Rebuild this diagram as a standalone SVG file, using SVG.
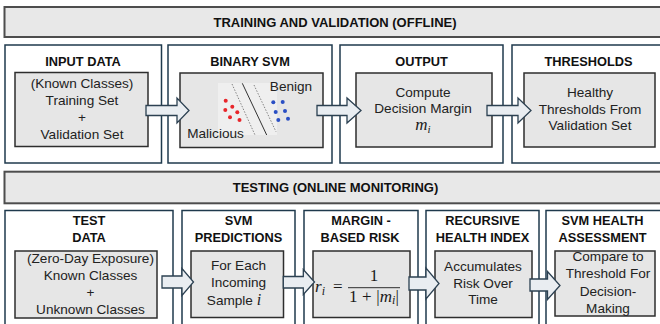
<svg xmlns="http://www.w3.org/2000/svg" width="660" height="324" viewBox="0 0 660 324">
  <style>
    .banner { fill: #e8e8e8; stroke: #4d4d4d; stroke-width: 2; }
    .panel { fill: #ffffff; stroke: #1f3a4d; stroke-width: 1.5; }
    .inner { fill: #e6e6e6; stroke: #2e2e2e; stroke-width: 1.5; }
    .arrow { fill: #e9edf1; stroke: #2c4152; stroke-width: 1.3; stroke-linejoin: miter; }
    .hdr { font-family: "Liberation Sans", Arial, sans-serif; font-weight: bold; font-size: 13px; fill: #111; text-anchor: middle; }
    .ttl { font-family: "Liberation Sans", Arial, sans-serif; font-weight: bold; font-size: 12.8px; fill: #111; text-anchor: middle; }
    .txt { font-family: "Liberation Sans", Arial, sans-serif; font-size: 13.6px; fill: #222; text-anchor: middle; }
    .math { font-family: "Liberation Serif", "Times New Roman", serif; font-size: 17px; fill: #1a1a1a; }
    .mi { font-style: italic; }
  </style>

  <!-- Section: training and validation -->
  <g id="banner-training">
    <rect class="banner" x="4.5" y="7" width="670" height="30"/>
    <text class="hdr" x="335" y="27">TRAINING AND VALIDATION (OFFLINE)</text>
  </g>

  <g id="input-data">
    <rect class="panel" x="5" y="45" width="156.5" height="118"/>
    <text class="ttl" x="83" y="66">INPUT DATA</text>
    <rect class="inner" x="15" y="72.5" width="133" height="74"/>
    <text class="txt" x="82" y="88">(Known Classes)</text>
    <text class="txt" x="82" y="105">Training Set</text>
    <text class="txt" x="82" y="122">+</text>
    <text class="txt" x="82" y="139">Validation Set</text>
  </g>

  <g id="binary-svm">
    <rect class="panel" x="168" y="45" width="164" height="118"/>
    <text class="ttl" x="250" y="66">BINARY SVM</text>
    <rect class="inner" x="180" y="73" width="143" height="74.5"/>
    <rect x="218" y="83" width="59" height="52" fill="#efefef"/>
    <line x1="232" y1="84" x2="255" y2="135" stroke="#777" stroke-width="0.9" stroke-dasharray="1.5,1.5"/>
    <line x1="242.3" y1="83.3" x2="266.7" y2="135" stroke="#333" stroke-width="1"/>
    <line x1="254" y1="85" x2="276" y2="131.7" stroke="#777" stroke-width="0.9" stroke-dasharray="1.5,1.5"/>
    <g fill="#e8262b">
      <circle cx="225.7" cy="100.7" r="2"/>
      <circle cx="232.3" cy="106.7" r="2"/>
      <circle cx="225.3" cy="110" r="2"/>
      <circle cx="237.3" cy="112.3" r="2"/>
      <circle cx="230" cy="117.3" r="2"/>
      <circle cx="239.5" cy="120" r="2"/>
    </g>
    <g fill="#2a4fc4">
      <circle cx="273.3" cy="102.3" r="2"/>
      <circle cx="282.7" cy="102" r="2"/>
      <circle cx="275.7" cy="112" r="2"/>
      <circle cx="285" cy="111" r="2"/>
      <circle cx="278.3" cy="120" r="2"/>
      <circle cx="288" cy="118.7" r="2"/>
    </g>
    <text class="txt" x="291" y="91">Benign</text>
    <text class="txt" x="215.5" y="138">Malicious</text>
  </g>

  <g id="output">
    <rect class="panel" x="340" y="45" width="163" height="118"/>
    <text class="ttl" x="421.5" y="66">OUTPUT</text>
    <rect class="inner" x="356" y="73" width="136" height="74"/>
    <text class="txt" x="423" y="96.5">Compute</text>
    <text class="txt" x="423" y="113">Decision Margin</text>
    <text class="math" x="423" y="130" font-size="15.5" text-anchor="middle"><tspan class="mi">m</tspan><tspan class="mi" font-size="11" dy="2.5">i</tspan></text>
  </g>

  <g id="thresholds">
    <rect class="panel" x="512" y="45" width="160" height="118"/>
    <text class="ttl" x="588.5" y="66">THRESHOLDS</text>
    <rect class="inner" x="524" y="73" width="131" height="74"/>
    <text class="txt" x="590" y="97">Healthy</text>
    <text class="txt" x="590" y="113.5">Thresholds From</text>
    <text class="txt" x="590" y="130">Validation Set</text>
  </g>

  <!-- Section: online testing -->
  <g id="banner-testing">
    <rect class="banner" x="4.5" y="171.7" width="670" height="31.6"/>
    <text class="hdr" x="335.5" y="192">TESTING (ONLINE MONITORING)</text>
  </g>

  <g id="test-data">
    <rect class="panel" x="5" y="210.5" width="168" height="130"/>
    <text class="ttl" x="89" y="225">TEST</text>
    <text class="ttl" x="89" y="242.3">DATA</text>
    <rect class="inner" x="15" y="251" width="142" height="67"/>
    <text class="txt" x="90.5" y="263.3" font-size="13">(Zero-Day Exposure)</text>
    <text class="txt" x="90.5" y="280">Known Classes</text>
    <text class="txt" x="90.5" y="297">+</text>
    <text class="txt" x="90.5" y="314.3">Unknown Classes</text>
  </g>

  <g id="svm-predictions">
    <rect class="panel" x="182" y="210.5" width="113" height="130"/>
    <text class="ttl" x="238.5" y="225">SVM</text>
    <text class="ttl" x="238.5" y="242.3">PREDICTIONS</text>
    <rect class="inner" x="191" y="251" width="92.5" height="66.5"/>
    <text class="txt" x="238.5" y="270">For Each</text>
    <text class="txt" x="238.5" y="287.3">Incoming</text>
    <text class="txt" x="234" y="305">Sample <tspan font-family="Liberation Serif, serif" font-style="italic" font-size="16">i</tspan></text>
  </g>

  <g id="margin-risk">
    <rect class="panel" x="304" y="210.5" width="114" height="130"/>
    <text class="ttl" x="361" y="225">MARGIN -</text>
    <text class="ttl" x="360" y="242.3">BASED RISK</text>
    <rect class="inner" x="313" y="251" width="97" height="66.5"/>
    <text class="math" x="315" y="292"><tspan class="mi">r</tspan><tspan class="mi" font-size="12" dy="2.5">i</tspan></text>
    <text class="math" x="333" y="292">=</text>
    <line x1="348" y1="287.7" x2="400" y2="287.7" stroke="#1a1a1a" stroke-width="0.9"/>
    <text class="math" x="374" y="281" text-anchor="middle">1</text>
    <text class="math" x="349" y="301.5" textLength="50" lengthAdjust="spacing">1 + |<tspan class="mi">m</tspan><tspan class="mi" font-size="12" dy="2.5">i</tspan><tspan dy="-2.5">|</tspan></text>
  </g>

  <g id="health-index">
    <rect class="panel" x="426" y="210.5" width="113" height="130"/>
    <text class="ttl" x="482.5" y="225">RECURSIVE</text>
    <text class="ttl" x="482.5" y="242.3">HEALTH INDEX</text>
    <rect class="inner" x="435" y="251" width="97" height="66.5"/>
    <text class="txt" x="483" y="271">Accumulates</text>
    <text class="txt" x="483" y="287.5">Risk Over</text>
    <text class="txt" x="483" y="304">Time</text>
  </g>

  <g id="health-assessment">
    <rect class="panel" x="546" y="210.5" width="130" height="130"/>
    <text class="ttl" x="602.5" y="225">SVM HEALTH</text>
    <text class="ttl" x="602.5" y="242.3">ASSESSMENT</text>
    <rect class="inner" x="555" y="251" width="100" height="65"/>
    <text class="txt" x="608" y="260.7">Compare to</text>
    <text class="txt" x="608" y="278.3">Threshold For</text>
    <text class="txt" x="608" y="296">Decision-</text>
    <text class="txt" x="608" y="312.7">Making</text>
  </g>

  <!-- Block arrows between stages -->
  <g id="connectors">
    <polygon class="arrow" points="146,105.5 177,105.5 177,98 189,110.5 177,123 177,115.5 146,115.5"/>
    <polygon class="arrow" points="317,105.5 347,105.5 347,98 361,110.5 347,123 347,115.5 317,115.5"/>
    <polygon class="arrow" points="487,105.5 518,105.5 518,98 531,110.5 518,123 518,115.5 487,115.5"/>
    <polygon class="arrow" points="162,276 182,276 182,268.5 193.5,282 182,295.5 182,288 162,288"/>
    <polygon class="arrow" points="283.3,276.5 303.3,276.5 303.3,269.5 314.5,282 303.3,294.5 303.3,288 283.3,288"/>
    <polygon class="arrow" points="409,277 426,277 426,268 439,283.5 426,299 426,290 409,290"/>
    <polygon class="arrow" points="530,279 547.5,279 547.5,271.5 560,285.5 547.5,299.5 547.5,291 530,291"/>
  </g>
</svg>
